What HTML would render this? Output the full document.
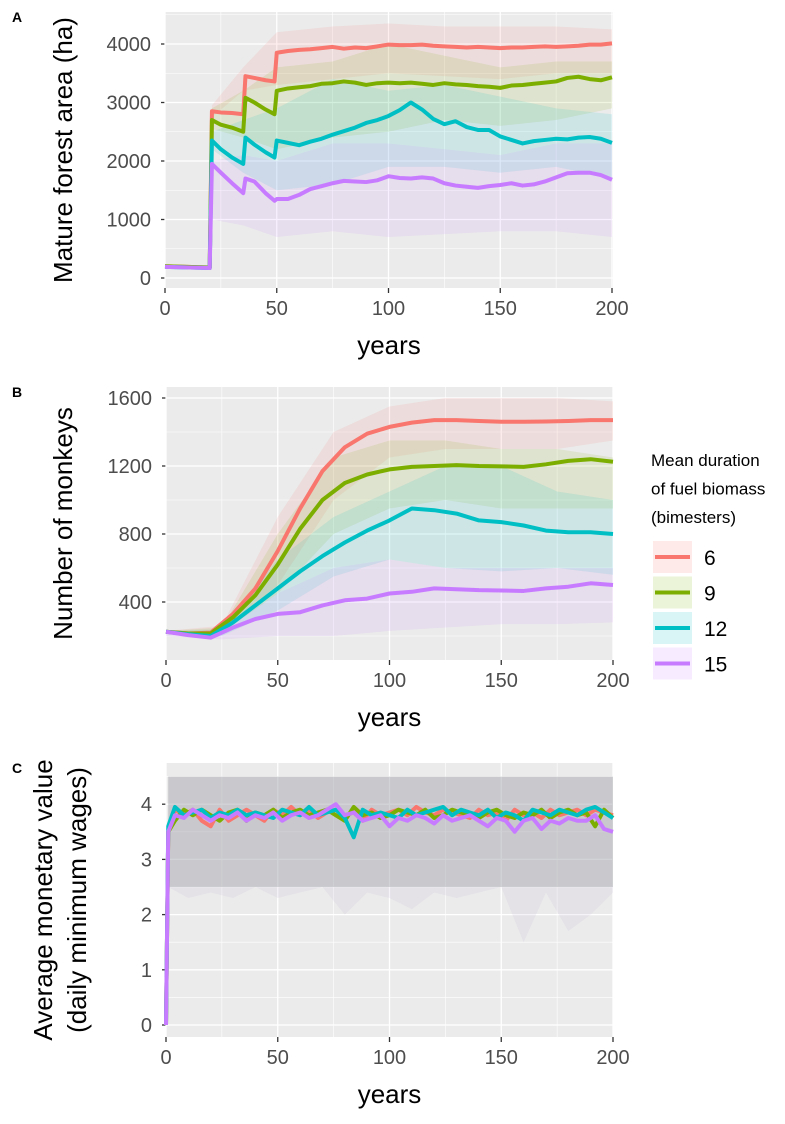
<!DOCTYPE html>
<html><head><meta charset="utf-8"><style>
body{margin:0;background:#fff;width:785px;height:1119px;overflow:hidden}
svg text{font-family:"Liberation Sans",sans-serif}
</style></head><body>
<svg id="fig" width="785" height="1119" viewBox="0 0 785 1119" xmlns="http://www.w3.org/2000/svg"></svg>
<script>
// ---------- DATA ----------
const seriesNames = ["6","9","12","15"];
const seriesColors = ["#F8766D","#7CAE00","#00BFC4","#C77CFF"];

// Panel A
const yearsA = [0,20,21,25,30,35,36,40,45,49,50,55,60,65,70,75,80,85,90,95,100,105,110,115,120,125,130,135,140,145,150,155,160,165,170,175,180,185,190,195,200];
const forestRed = [200,180,2850,2830,2820,2800,3450,3420,3380,3360,3850,3880,3900,3910,3930,3950,3920,3940,3930,3960,3990,3980,3980,3990,3970,3960,3950,3940,3950,3940,3930,3940,3940,3950,3960,3950,3960,3970,3990,3990,4010];
const forestGreen = [200,180,2700,2620,2570,2500,3080,3000,2880,2800,3200,3240,3260,3280,3320,3330,3360,3340,3300,3330,3340,3330,3340,3320,3300,3330,3310,3300,3280,3270,3250,3290,3300,3320,3340,3360,3420,3440,3400,3380,3430];
const forestCyan = [190,170,2350,2200,2060,1950,2400,2280,2150,2060,2350,2310,2270,2330,2380,2450,2510,2570,2650,2700,2770,2870,3000,2880,2720,2630,2680,2580,2530,2530,2420,2360,2300,2340,2360,2380,2370,2400,2410,2380,2310];
const forestPurple = [190,170,1950,1800,1620,1450,1700,1650,1450,1320,1350,1350,1420,1520,1570,1620,1660,1650,1640,1670,1740,1710,1700,1720,1700,1620,1580,1560,1540,1570,1590,1620,1580,1600,1650,1720,1790,1800,1800,1760,1680];
const bandYearsA = [21,35,50,75,100,125,150,175,200];
const forestLow = [[2750,3200,3300,3400,3500,3450,3400,3500,3500],[2550,2400,2200,2400,2500,2700,2600,2700,2900],[2200,1800,1500,1600,1900,1900,1800,1900,1700],[1000,900,700,800,700,750,800,800,700]];
const forestHigh = [[2950,3600,4200,4300,4350,4300,4300,4300,4250],[2900,3200,3600,3700,4000,3800,3600,3700,3700],[2500,2700,2900,3400,3200,3300,3100,2900,2800],[2000,2100,2000,2300,2300,2200,2100,2300,2300]];
const ticksA = [0,1000,2000,3000,4000];

// Panel B
const yearsB = [0,10,20,30,40,50,60,70,80,90,100,110,120,130,140,150,160,170,180,190,200];
const monkeysRed = [225,215,220,330,480,700,950,1170,1310,1390,1430,1455,1470,1470,1465,1460,1460,1462,1465,1470,1470];
const monkeysGreen = [225,215,215,310,440,620,830,1000,1100,1150,1180,1195,1200,1205,1200,1198,1195,1210,1230,1240,1225];
const monkeysCyan = [225,210,200,280,380,480,580,670,750,820,880,950,940,920,880,870,850,820,810,810,800];
const monkeysPurple = [225,205,190,250,300,330,340,380,410,420,450,460,480,475,470,468,465,480,490,510,500];
const bandYearsB = [0,25,50,75,100,125,150,175,200];
const monkeysLow = [[220,230,500,1000,1250,1300,1300,1300,1350],[220,220,450,800,950,1000,950,950,950],[215,200,350,550,650,600,580,600,560],[200,180,200,200,230,250,270,270,280]];
const monkeysHigh = [[230,260,900,1400,1550,1600,1600,1600,1580],[230,250,800,1250,1350,1350,1300,1300,1250],[230,240,650,900,1050,1200,1200,1050,1000],[230,230,450,600,650,600,600,600,600]];
const ticksB = [400,800,1200,1600];

// Panel C
const yearsC = [0,1,4,8,12,16,20,24,28,32,36,40,44,48,52,56,60,64,68,72,76,80,84,88,92,96,100,104,108,112,116,120,124,128,132,136,140,144,148,152,156,160,164,168,172,176,180,184,188,192,196,200];
const moneyRed = [0,3.5,3.9,3.8,3.9,3.7,3.6,3.9,3.7,3.8,3.9,3.8,3.7,3.9,3.8,3.95,3.8,3.9,3.75,3.85,3.9,3.8,3.85,3.7,3.9,3.8,3.85,3.9,3.8,3.95,3.85,3.8,3.9,3.85,3.8,3.75,3.9,3.8,3.85,3.7,3.9,3.8,3.85,3.75,3.9,3.8,3.85,3.9,3.8,3.9,3.85,3.8];
const moneyGreen = [0,3.5,3.7,3.9,3.8,3.9,3.8,3.7,3.85,3.9,3.7,3.85,3.8,3.9,3.75,3.85,3.9,3.8,3.85,3.9,3.8,3.7,3.95,3.8,3.85,3.75,3.8,3.9,3.85,3.8,3.9,3.75,3.8,3.9,3.85,3.8,3.75,3.85,3.9,3.8,3.75,3.85,3.8,3.9,3.75,3.85,3.9,3.8,3.85,3.6,3.9,3.75];
const moneyCyan = [0,3.6,3.95,3.8,3.85,3.9,3.75,3.85,3.8,3.9,3.8,3.85,3.8,3.75,3.9,3.85,3.8,3.95,3.8,3.85,3.9,3.75,3.4,3.9,3.8,3.85,3.8,3.75,3.9,3.8,3.85,3.9,3.95,3.8,3.9,3.85,3.8,3.9,3.75,3.85,3.8,3.7,3.9,3.85,3.8,3.9,3.85,3.8,3.9,3.95,3.85,3.75];
const moneyPurple = [0,3.5,3.8,3.75,3.9,3.8,3.7,3.8,3.75,3.85,3.7,3.8,3.75,3.85,3.7,3.8,3.85,3.75,3.8,3.9,4.0,3.8,3.85,3.7,3.75,3.8,3.6,3.75,3.7,3.8,3.75,3.65,3.8,3.7,3.75,3.8,3.7,3.6,3.75,3.7,3.5,3.7,3.75,3.55,3.7,3.65,3.75,3.7,3.7,3.8,3.55,3.5];
const bandYearsC = [1,10,20,30,40,50,60,70,80,90,100,110,120,130,140,150,160,170,180,190,200];
const moneyLow = [2.5,2.3,2.4,2.3,2.5,2.3,2.4,2.5,2.0,2.4,2.3,2.1,2.4,2.3,2.4,2.5,1.5,2.4,1.7,2.0,2.4];
const moneyHigh = [4.5,4.5,4.5,4.5,4.5,4.5,4.5,4.5,4.5,4.5,4.5,4.5,4.5,4.5,4.5,4.5,4.5,4.5,4.5,4.5,4.5];
const ticksC = [0,1,2,3,4];
const ticksX = [0,50,100,150,200];

// ---------- DRAW ----------
const NS = "http://www.w3.org/2000/svg";
const svg = document.getElementById("fig");
function mk(tag, attrs, parent){
  const e = document.createElementNS(NS, tag);
  for (const k in attrs) e.setAttribute(k, attrs[k]);
  (parent||svg).appendChild(e);
  return e;
}
function panel(cfg){
  const g = mk("g", {});
  
  
  const X = v => cfg.x0 + (v - 0) * (cfg.x1 - cfg.x0) / 200;
  const Y = v => cfg.yb - (v - cfg.ymin) * cfg.k;
  const bg = mk("rect", {x:cfg.px0, y:cfg.py0, width:cfg.px1-cfg.px0, height:cfg.py1-cfg.py0, fill:"#ebebeb"}, g);
  
  
  for (let i=0;i<cfg.yticks.length+1;i++){
    const v = (cfg.yticks[0] - cfg.ystep/2) + i*cfg.ystep;
    const yy = Y(v);
    if (yy>cfg.py0 && yy<cfg.py1) mk("line",{x1:cfg.px0,x2:cfg.px1,y1:yy,y2:yy,stroke:"#fff","stroke-width":0.6},g);
  }
  [25,75,125,175].forEach(v=>mk("line",{x1:X(v),x2:X(v),y1:cfg.py0,y2:cfg.py1,stroke:"#fff","stroke-width":0.6},g));
  cfg.yticks.forEach(v=>{
    const gl = mk("line",{x1:cfg.px0,x2:cfg.px1,y1:Y(v),y2:Y(v),stroke:"#fff","stroke-width":1.3},g);
    
    
    mk("line",{x1:cfg.px0-4,x2:cfg.px0,y1:Y(v),y2:Y(v),stroke:"#333","stroke-width":1.3},g);
    const t = mk("text",{x:cfg.px0-14,y:Y(v)+7,"text-anchor":"end","font-size":20,fill:"#4d4d4d"},g);
    t.textContent = v;
    
    
  });
  ticksX.forEach(v=>{
    mk("line",{x1:X(v),x2:X(v),y1:cfg.py0,y2:cfg.py1,stroke:"#fff","stroke-width":1.3},g);
    mk("line",{x1:X(v),x2:X(v),y1:cfg.py1,y2:cfg.py1+5,stroke:"#333","stroke-width":1.3},g);
    const t = mk("text",{x:X(v),y:cfg.py1+27,"text-anchor":"middle","font-size":20,fill:"#4d4d4d"},g);
    t.textContent = v;
    
    
  });
  cfg.bands.forEach(b=>{
    let d = "";
    b.years.forEach((yr,i)=>{ d += (i?"L":"M") + X(yr) + "," + Y(b.hi[i]); });
    for (let i=b.years.length-1;i>=0;i--) d += "L" + X(b.years[i]) + "," + Y(b.lo[i]);
    const p = mk("path",{d:d+"Z",fill:b.color,"fill-opacity":b.op},g);
    
    
  });
  cfg.series.forEach((s,si)=>{
    const pts = s.vals.map((v,i)=>X(s.years[i])+","+Y(v)).join(" ");
    const l = mk("polyline",{points:pts,fill:"none",stroke:seriesColors[si],"stroke-width":4,"stroke-linejoin":"round"},g);
    
    
  });
  const lab = mk("text",{x:12,y:cfg.py0+10,"font-size":14,"font-weight":"bold",fill:"#000"},g);
  lab.textContent = cfg.letter;
  
  
  const xt = mk("text",{x:(cfg.px0+cfg.px1)/2,y:cfg.py1+66,"text-anchor":"middle","font-size":26,fill:"#000"},g);
  xt.textContent = "years";
  
  
  cfg.ytitle.forEach((line,i)=>{
    const cx = cfg.ytx + i*34, cy = (cfg.py0+cfg.py1)/2;
    const yt = mk("text",{x:cx,y:cy,"text-anchor":"middle","font-size":26,fill:"#000",transform:`rotate(-90 ${cx} ${cy})`},g);
    yt.textContent = line;
    
    
  });
}

panel({name:"panel-a-forest",letter:"A",x0:165,x1:612,px0:165,px1:613,py0:12,py1:288,yb:278,ymin:0,k:0.0585,
  yticks:ticksA,ystep:1000,ytitle:["Mature forest area (ha)"],ytx:72,
  bands:[0,1,2,3].map(i=>({years:bandYearsA,lo:forestLow[i],hi:forestHigh[i],color:seriesColors[i],op:0.12})),
  series:[forestRed,forestGreen,forestCyan,forestPurple].map(v=>({years:yearsA,vals:v}))});
panel({name:"panel-b-monkeys",letter:"B",x0:166,x1:613,px0:166,px1:613,py0:387,py1:660,yb:602,ymin:400,k:0.17,
  yticks:ticksB,ystep:400,ytitle:["Number of monkeys"],ytx:72,
  bands:[0,1,2,3].map(i=>({years:bandYearsB,lo:monkeysLow[i],hi:monkeysHigh[i],color:seriesColors[i],op:0.12})),
  series:[monkeysRed,monkeysGreen,monkeysCyan,monkeysPurple].map(v=>({years:yearsB,vals:v}))});
panel({name:"panel-c-money",letter:"C",x0:166,x1:613,px0:166,px1:613,py0:763,py1:1037,yb:1025,ymin:0,k:55.2,
  yticks:ticksC,ystep:1,ytitle:["Average monetary value","(daily minimum wages)"],ytx:52,
  bands:[{years:bandYearsC,lo:moneyLow,hi:moneyHigh,color:"#c9b8d6",op:0.18},{years:bandYearsC,lo:moneyLow.map(()=>2.5),hi:moneyHigh,color:"#a9adae",op:0.45}],
  series:[moneyRed,moneyGreen,moneyCyan,moneyPurple].map(v=>({years:yearsC,vals:v}))});

const lg = mk("g",{});


["Mean duration","of fuel biomass","(bimesters)"].forEach((t,i)=>{
  const e = mk("text",{x:651,y:466+i*28.5,"font-size":17,fill:"#000"},lg);
  e.textContent = t;
  
  
});
seriesNames.forEach((n,i)=>{
  const y0 = 541 + i*35.5;
  const box = mk("rect",{x:653,y:y0,width:39,height:32,fill:seriesColors[i],"fill-opacity":0.15},lg);
  
  
  mk("line",{x1:655,x2:690,y1:y0+16,y2:y0+16,stroke:seriesColors[i],"stroke-width":4},lg);
  const t = mk("text",{x:704,y:y0+24,"font-size":21,fill:"#000"},lg);
  t.textContent = n;
  
  
});
</script>
</body></html>
